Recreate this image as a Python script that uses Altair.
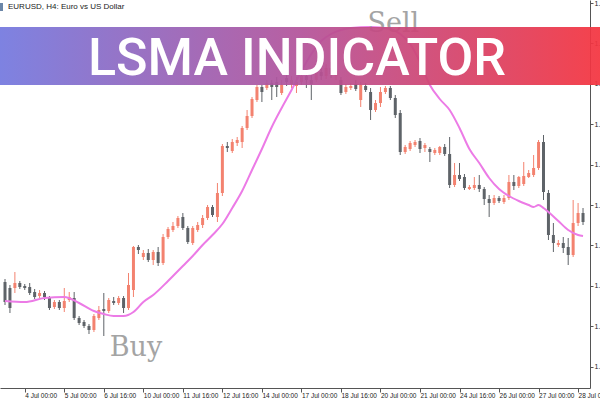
import altair as alt
import pandas as pd

# H4 bars of EURUSD, prices in 5-digit points (109370 -> 1.09370)
bar = list(range(118))
open_pts = [109370, 109280, 109280, 109355, 109310, 109295, 109220, 109160, 109205, 109130,
            108995, 109070, 108980, 109100, 109130, 108830, 108770, 108710, 108650, 108830,
            108965, 108935, 109085, 109055, 109130, 108980, 109250, 109895, 109745, 109805,
            109700, 109820, 109655, 110045, 110150, 110210, 110345, 110180, 109955, 110150,
            110225, 110330, 110495, 110345, 110705, 111410, 111335, 111455, 111470, 111680,
            111860, 112100, 112295, 112280, 112355, 112370, 112205, 112430, 112340, 112310,
            112370, 112460, 112400, 112400, 112520, 112460, 112580, 112460, 112400, 112220,
            112280, 112340, 112100, 112310, 112220, 111950, 112055, 112220, 112280, 112130,
            111905, 111320, 111365, 111425, 111485, 111380, 111365, 111305, 111305, 111395,
            111290, 110825, 110975, 110945, 110765, 110780, 110825, 110765, 110615, 110555,
            110630, 110570, 110630, 110870, 110810, 110840, 110945, 110975, 111080, 111470,
            110705, 110075, 109925, 109955, 109895, 109775, 110255, 110405]
high_pts = [109415, 109325, 109520, 109385, 109340, 109355, 109265, 109250, 109235, 109160,
            109100, 109100, 109280, 109220, 109220, 108860, 108800, 108740, 108890, 109010,
            109205, 109130, 109145, 109160, 109160, 109505, 109910, 109925, 109850, 109865,
            109850, 109895, 110090, 110195, 110270, 110360, 110405, 110210, 110210, 110270,
            110375, 110525, 110525, 110855, 111440, 111470, 111515, 111545, 111710, 111950,
            112145, 112325, 112325, 112400, 112400, 112445, 112400, 112490, 112460, 112445,
            112520, 112520, 112475, 112580, 112610, 112640, 112670, 112610, 112445, 112340,
            112355, 112400, 112370, 112355, 112280, 112100, 112295, 112310, 112310, 112175,
            111950, 111425, 111485, 111500, 111530, 111455, 111395, 111380, 111410, 111440,
            111545, 111155, 111155, 110990, 110825, 110945, 110975, 110795, 110675, 110675,
            110660, 110675, 110975, 110975, 110960, 111170, 111050, 111275, 111500, 111575,
            110750, 110255, 110000, 110045, 110030, 110600, 110555, 110480]
low_pts = [109025, 108905, 109205, 109265, 109250, 109175, 109115, 109130, 109100, 108950,
           108965, 108950, 108920, 109070, 108800, 108725, 108680, 108590, 108620, 108800,
           108560, 108905, 109025, 109025, 108905, 108950, 109145, 109790, 109700, 109670,
           109625, 109610, 109625, 110015, 110120, 110180, 110150, 109940, 109925, 110120,
           110180, 110300, 110345, 110270, 110660, 111320, 111305, 111410, 111380, 111650,
           111830, 112070, 112070, 112250, 112100, 112145, 112175, 112310, 112280, 112205,
           112325, 112280, 112100, 112370, 112400, 112415, 112430, 112400, 112175, 112190,
           112250, 112235, 111995, 112220, 111800, 111920, 111995, 112190, 112100, 111830,
           111275, 111290, 111335, 111395, 111305, 111320, 111170, 111275, 111275, 111260,
           110780, 110795, 110885, 110750, 110750, 110750, 110720, 110525, 110345, 110525,
           110555, 110540, 110600, 110750, 110780, 110810, 110930, 110945, 111050, 110600,
           110000, 109820, 109895, 109805, 109625, 109745, 110210, 110225]
close_pts = [109070, 108980, 109355, 109295, 109280, 109205, 109145, 109205, 109145, 108980,
             109070, 108980, 109085, 109145, 108830, 108755, 108710, 108650, 108860, 108950,
             108935, 109100, 109055, 109130, 108980, 109325, 109895, 109850, 109805, 109700,
             109820, 109655, 110045, 110165, 110210, 110330, 110180, 109970, 110180, 110225,
             110330, 110495, 110375, 110705, 111410, 111380, 111470, 111500, 111680, 111860,
             112115, 112295, 112220, 112355, 112295, 112295, 112325, 112370, 112400, 112370,
             112460, 112400, 112340, 112520, 112460, 112580, 112490, 112535, 112205, 112295,
             112310, 112265, 112325, 112250, 111950, 112055, 112220, 112280, 112130, 111875,
             111320, 111395, 111455, 111470, 111365, 111425, 111320, 111350, 111395, 111290,
             110825, 110975, 110915, 110780, 110795, 110825, 110765, 110615, 110555, 110630,
             110585, 110630, 110870, 110810, 110945, 110960, 111005, 111080, 111470, 110720,
             110075, 109955, 109955, 109880, 109775, 110255, 110405, 110270]

# LSMA values at selected bars
lsma_bar = [0, 4, 8, 12, 15, 18, 20, 22, 24, 26, 28, 30, 33, 36, 38, 40, 42, 44, 46, 48,
            50, 52, 54, 56, 58, 60, 62, 64, 66, 68, 70, 74, 78, 80, 82, 84, 86, 88, 90, 92,
            94, 96, 98, 100, 102, 104, 106, 107, 108, 109, 110, 112, 114, 116, 117]
lsma_pts = [109085, 109070, 109130, 109145, 109055, 108935, 108890, 108860, 108860, 108920,
            109070, 109175, 109385, 109610, 109760, 109925, 110075, 110240, 110480, 110735,
            111050, 111365, 111695, 111980, 112250, 112535, 112790, 112985, 113090, 113150,
            113180, 113195, 113165, 113090, 112940, 112670, 112325, 112115, 111950, 111680,
            111365, 111155, 110930, 110765, 110660, 110585, 110525, 110495, 110525, 110480,
            110420, 110285, 110150, 110075, 110060]

# time axis
xtick_bar = [-4.3, 4, 12, 20, 28, 36, 44, 52, 60, 68, 76, 84, 92, 100, 108, 116]
xtick_text = ['3 Jul 2023', '4 Jul 00:00', '5 Jul 00:00', '6 Jul 16:00', '10 Jul 00:00',
              '11 Jul 16:00', '12 Jul 16:00', '14 Jul 00:00', '17 Jul 00:00', '18 Jul 16:00',
              '20 Jul 00:00', '21 Jul 00:00', '24 Jul 16:00', '26 Jul 00:00', '27 Jul 00:00',
              '28 Jul 00:00']
# price axis
ytick_pts = [113555, 113252, 112949, 112646, 112343, 112040, 111737, 111434, 111131, 110828,
             110525, 110222, 109919, 109616, 109313, 109010, 108707, 108404, 108101]

BULL = '#f3826f'
BEAR = '#5e6368'
LINE = '#ec7be6'
AXIS_FONT = 'Liberation Sans'

bars = pd.DataFrame({'bar': bar, 'open': open_pts, 'high': high_pts,
                     'low': low_pts, 'close': close_pts})
bars['dir'] = ['up' if c >= o else 'down' for o, c in zip(bars['open'], bars['close'])]
lsma = pd.DataFrame({'bar': lsma_bar, 'lsma': lsma_pts})
signals = pd.DataFrame({'bar': [26.5, 78.6], 'price': [108260, 113120], 'label': ['Buy', 'Sell']})
one = pd.DataFrame({'k': [0]})

x_labels = "[" + ",".join("'%s'" % t for t in xtick_text) + "][indexof([" + \
    ",".join(str(v) for v in xtick_bar) + "], datum.value)]"

x_enc = alt.X('bar:Q', scale=alt.Scale(domain=[0, 117.4], nice=False, zero=False),
              axis=alt.Axis(values=xtick_bar, labelExpr=x_labels, title=None, grid=False,
                            labelAlign='left', labelPadding=0, labelFontSize=6.5,
                            labelFont=AXIS_FONT, labelColor='#222', tickSize=4,
                            tickColor='#555', domainColor='#555', labelFlush=False,
                            labelOverlap=False, labelBound=False))
y_scale = alt.Scale(domain=[107780, 113600], nice=False, zero=False)
y_axis = alt.Axis(orient='right', values=ytick_pts, title=None, grid=False,
                  labelExpr="format(datum.value / 100000, '.5f')", labelAlign='left',
                  labelPadding=1, labelFontSize=7, labelFont=AXIS_FONT, labelColor='#222',
                  tickSize=3, tickColor='#555', domainColor='#555', labelFlush=False,
                  labelOverlap=False, labelBound=False)
color = alt.Color('dir:N', scale=alt.Scale(domain=['up', 'down'], range=[BULL, BEAR]), legend=None)

base = alt.Chart(bars).encode(x=x_enc, color=color)
wicks = base.mark_rule(strokeWidth=1).encode(
    y=alt.Y('low:Q', scale=y_scale, axis=y_axis), y2='high:Q')
bodies = base.mark_bar(size=3).encode(y=alt.Y('open:Q'), y2='close:Q')

line = alt.Chart(lsma).mark_line(color=LINE, strokeWidth=2, interpolate='monotone').encode(
    x='bar:Q', y='lsma:Q')

signal_text = alt.Chart(signals).mark_text(
    font='DejaVu Serif', fontSize=27, color='#a4a4a4', align='center', baseline='alphabetic'
).encode(x='bar:Q', y='price:Q', text='label:N')

banner = alt.Chart(one).mark_rect(
    color=alt.Gradient(gradient='linear', x1=0, x2=1, y1=0, y2=0,
                       stops=[alt.GradientStop(color='#7479df', offset=0),
                              alt.GradientStop(color='#b3539a', offset=0.5),
                              alt.GradientStop(color='#f4343f', offset=1)]),
    opacity=0.93
).encode(x=alt.value(0), x2=alt.value(600), y=alt.value(27), y2=alt.value(85))

banner_text = alt.Chart(one).mark_text(
    text='LSMA INDICATOR', font='Roboto', fontSize=52, fontWeight=500, color='white',
    align='center', baseline='alphabetic'
).encode(x=alt.value(297), y=alt.value(75))

caption = alt.Chart(one).mark_text(
    text='EURUSD, H4:  Euro vs US Dollar', font=AXIS_FONT, fontSize=8, color='#222',
    align='left', baseline='middle'
).encode(x=alt.value(8), y=alt.value(7))

icon = alt.Chart(one).mark_rect(color='#6b86a8').encode(
    x=alt.value(0), x2=alt.value(3), y=alt.value(3), y2=alt.value(11))

chart = alt.layer(wicks, bodies, line, signal_text, banner, banner_text, caption, icon).properties(
    width=590, height=388,
    autosize=alt.AutoSizeParams(type='none'),
    padding={'left': 0, 'top': 0, 'right': 10, 'bottom': 12},
    background='white'
).configure_view(stroke=None)

chart.save('out.html', embed_options={'renderer': 'svg', 'actions': False})
